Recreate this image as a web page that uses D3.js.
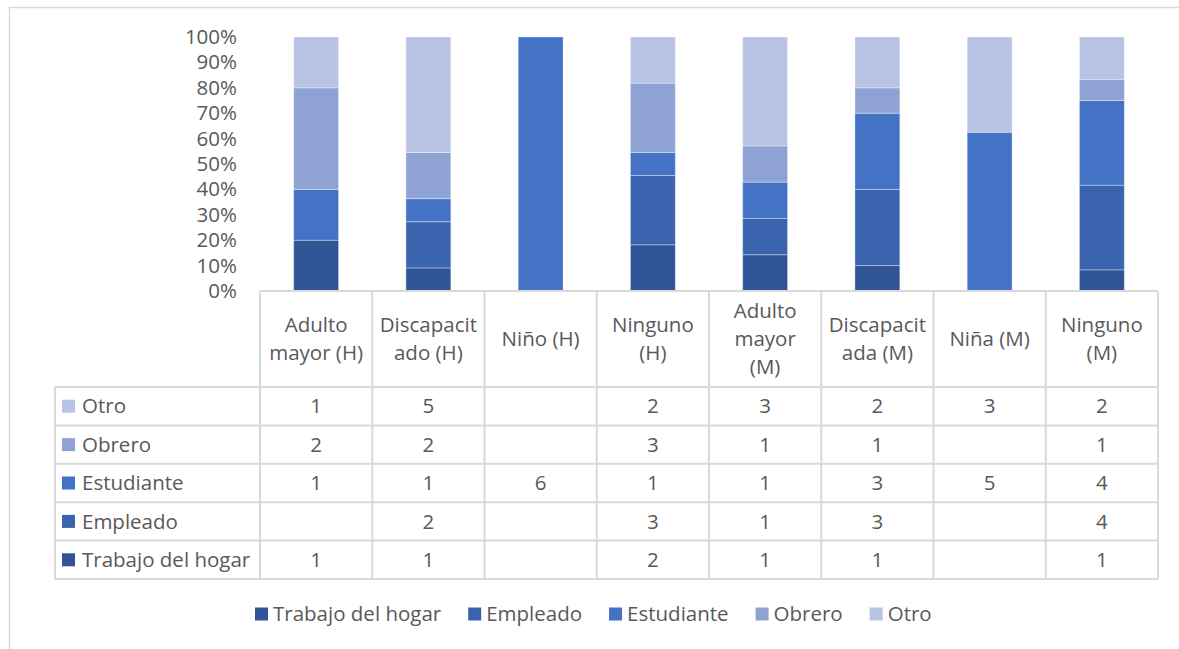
<!DOCTYPE html>
<html>
<head>
<meta charset="utf-8">
<script src="https://cdn.jsdelivr.net/npm/d3@7"></script>
<style>
  body { margin: 0; background: #fff; }
  text { font-family: "Open Sans", sans-serif; fill: #595959; }
</style>
</head>
<body>
<div class="chart"></div>
<script>
var categories = ["Adulto mayor (H)", "Discapacitado (H)", "Niño (H)", "Ninguno (H)",
                  "Adulto mayor (M)", "Discapacitada (M)", "Niña (M)", "Ninguno (M)"];
var categoryLines = [["Adulto", "mayor (H)"], ["Discapacit", "ado (H)"], ["Niño (H)"], ["Ninguno", "(H)"],
                     ["Adulto", "mayor", "(M)"], ["Discapacit", "ada (M)"], ["Niña (M)"], ["Ninguno", "(M)"]];
var seriesNames = ["Trabajo del hogar", "Empleado", "Estudiante", "Obrero", "Otro"];
var trabajoHogar = [1, 1, null, 2, 1, 1, null, 1];
var empleado     = [null, 2, null, 3, 1, 3, null, 4];
var estudiante   = [1, 1, 6, 1, 1, 3, 5, 4];
var obrero       = [2, 2, null, 3, 1, 1, null, 1];
var otro         = [1, 5, null, 2, 3, 2, 3, 2];
var yTicks = [0, 0.1, 0.2, 0.3, 0.4, 0.5, 0.6, 0.7, 0.8, 0.9, 1];

var colors = ["#2F5597", "#3A64AD", "#4472C4", "#8FA2D4", "#B9C3E3"];

function init() {
    var w = 1179;
    var h = 649;
    var fs = "20.5px";
    var values = [trabajoHogar, empleado, estudiante, obrero, otro];

    var dataset = categories.map(function (c, i) {
        var row = { cat: c };
        seriesNames.forEach(function (s, j) { row[s] = values[j][i] || 0; });
        return row;
    });

    var stack = d3.stack().keys(seriesNames).offset(d3.stackOffsetExpand);
    var stacked = stack(dataset);

    var svg = d3.select(".chart")
        .append("svg")
        .attr("width", w)
        .attr("height", h);

    // outer chart border
    svg.append("rect")
        .attr("x", 9.5).attr("y", 7.5)
        .attr("width", 1190).attr("height", 660)
        .style("fill", "none")
        .style("stroke", "#D9D9D9")
        .style("stroke-width", 1.5);

    var xScale = d3.scaleBand()
        .domain(categories)
        .range([260, 1158]);

    var yScale = d3.scaleLinear()
        .domain([0, 1])
        .range([291, 37]);

    var barW = xScale.bandwidth() * 0.4;

    svg.append("g")
        .selectAll("g")
        .data(stacked)
        .enter().append("g")
        .style("fill", function (d, i) { return colors[i]; })
        .selectAll("rect")
        .data(function (d) { return d; })
        .enter().append("rect")
        .attr("x", function (d) { return xScale(d.data.cat) + (xScale.bandwidth() - barW) / 2; })
        .attr("y", function (d) { return yScale(d[1]); })
        .attr("width", barW)
        .attr("height", function (d) { return yScale(d[0]) - yScale(d[1]); })
        .style("stroke", "#fff")
        .style("stroke-opacity", 0.35)
        .style("stroke-width", 1);

    var yAxis = d3.axisLeft(yScale)
        .tickValues(yTicks)
        .tickFormat(d3.format(".0%"))
        .tickSize(0)
        .tickPadding(0);

    var gy = svg.append("g")
        .call(yAxis)
        .attr("transform", "translate(237,0)");
    gy.select(".domain").remove();
    gy.selectAll("text")
        .style("font-size", fs)
        .style("fill", "#595959")
        .style("font-family", "'Open Sans', sans-serif");

    // data table
    var rowScale = d3.scaleBand()
        .domain(seriesNames.slice().reverse())
        .range([387, 579]);

    var lineColor = "#D9D9D9";
    var grid = svg.append("g")
        .style("stroke", lineColor)
        .style("stroke-width", 2);

    grid.append("line")
        .attr("x1", 260).attr("x2", 1158)
        .attr("y1", 291).attr("y2", 291);

    rowScale.domain().forEach(function (s) {
        grid.append("line")
            .attr("x1", 55).attr("x2", 1158)
            .attr("y1", rowScale(s)).attr("y2", rowScale(s));
    });
    grid.append("line")
        .attr("x1", 55).attr("x2", 1158)
        .attr("y1", 579).attr("y2", 579);

    grid.append("line")
        .attr("x1", 55).attr("x2", 55)
        .attr("y1", 387).attr("y2", 579);

    categories.concat([null]).forEach(function (c) {
        var x = c === null ? 1158 : xScale(c);
        grid.append("line")
            .attr("x1", x).attr("x2", x)
            .attr("y1", 291).attr("y2", 579);
    });

    // header labels
    var lineH = 28;
    categories.forEach(function (c, i) {
        var lines = categoryLines[i];
        var cx = xScale(c) + xScale.bandwidth() / 2;
        var t = svg.append("text")
            .attr("text-anchor", "middle")
            .style("font-size", fs);
        lines.forEach(function (l, k) {
            t.append("tspan")
                .attr("x", cx)
                .attr("y", 339 + (k - (lines.length - 1) / 2) * lineH)
                .attr("dy", "0.35em")
                .text(l);
        });
    });

    // row labels and values
    seriesNames.forEach(function (s, j) {
        var cy = rowScale(s) + rowScale.bandwidth() / 2;
        svg.append("rect")
            .attr("x", 62).attr("y", cy - 6.5)
            .attr("width", 13).attr("height", 13)
            .style("fill", colors[j]);
        svg.append("text")
            .attr("x", 82).attr("y", cy)
            .attr("dy", "0.35em")
            .style("font-size", fs)
            .text(s);
        values[j].forEach(function (v, i) {
            if (v === null) return;
            svg.append("text")
                .attr("x", xScale(categories[i]) + xScale.bandwidth() / 2)
                .attr("y", cy)
                .attr("dy", "0.35em")
                .attr("text-anchor", "middle")
                .style("font-size", fs)
                .text(v);
        });
    });

    // legend
    var legend = svg.append("g");
    var lx = 255;
    seriesNames.forEach(function (s, j) {
        legend.append("rect")
            .attr("x", lx).attr("y", 614 - 6.5)
            .attr("width", 13).attr("height", 13)
            .style("fill", colors[j]);
        var t = legend.append("text")
            .attr("x", lx + 18).attr("y", 614)
            .attr("dy", "0.35em")
            .style("font-size", fs)
            .text(s);
        lx += 18 + t.node().getComputedTextLength() + 27;
    });
}

init();
</script>
</body>
</html>
